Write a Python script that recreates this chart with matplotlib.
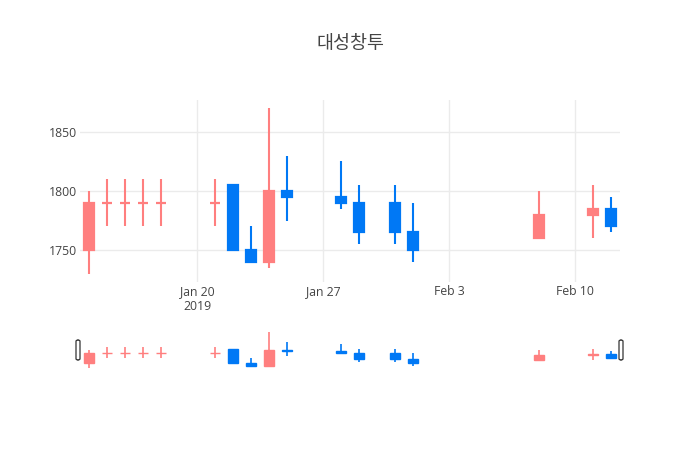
import matplotlib
matplotlib.use("Agg")
import matplotlib.pyplot as plt
import matplotlib.dates as mdates
from matplotlib.patches import Rectangle, FancyBboxPatch
import datetime as dt

title = "대성창투"
dates = ["2019-01-14", "2019-01-15", "2019-01-16", "2019-01-17", "2019-01-18",
         "2019-01-21", "2019-01-22", "2019-01-23", "2019-01-24", "2019-01-25",
         "2019-01-28", "2019-01-29", "2019-01-31", "2019-02-01",
         "2019-02-08", "2019-02-11", "2019-02-12"]
open_ = [1750, 1790, 1790, 1790, 1790, 1790, 1805, 1750, 1740, 1800,
         1795, 1790, 1790, 1765, 1760, 1780, 1785]
high = [1800, 1810, 1810, 1810, 1810, 1810, 1805, 1770, 1870, 1830,
        1825, 1805, 1805, 1790, 1800, 1805, 1795]
low = [1730, 1770, 1770, 1770, 1770, 1770, 1750, 1740, 1735, 1775,
       1785, 1755, 1755, 1740, 1760, 1760, 1765]
close = [1790, 1790, 1790, 1790, 1790, 1790, 1750, 1740, 1800, 1795,
         1790, 1765, 1765, 1750, 1780, 1785, 1770]
ytick_vals = [1750, 1800, 1850]
xtick_dates = ["2019-01-20", "2019-01-27", "2019-02-03", "2019-02-10"]
xtick_labels = ["Jan 20\n2019", "Jan 27", "Feb 3", "Feb 10"]

UP = "#FF7F7F"
DOWN = "#0078F5"
GRID = "#EBEBEB"
TXT = "#444444"

plt.rcParams['font.family'] = ['Open Sans', 'Noto Sans CJK KR', 'DejaVu Sans']

W, H = 700, 450
fig = plt.figure(figsize=(7, 4.5), dpi=100)

x = [mdates.date2num(dt.datetime.strptime(d, "%Y-%m-%d")) for d in dates]
xt = [mdates.date2num(dt.datetime.strptime(d, "%Y-%m-%d")) for d in xtick_dates]
colors = []
for i in range(len(x)):
    if close[i] > open_[i]:
        inc = True
    elif close[i] < open_[i]:
        inc = False
    else:
        inc = True if not colors else colors[-1] == UP
    colors.append(UP if inc else DOWN)

xmin = x[0] - 0.5
xmax = x[-1] + 0.5
ymin, ymax = 1723, 1877


def draw(ax, lw_wick, lw_body):
    bw = 0.6
    for xi, o, h, l, c, col in zip(x, open_, high, low, close, colors):
        ax.plot([xi, xi], [l, h], color=col, lw=lw_wick, solid_capstyle='butt', zorder=3)
        lo, hi = min(o, c), max(o, c)
        ax.add_patch(Rectangle((xi - bw / 2, lo), bw, hi - lo, facecolor=col,
                               edgecolor=col, lw=lw_body, zorder=4))


ax = fig.add_axes([80 / W, (H - 282) / H, 540 / W, 182 / H])
draw(ax, 1.5, 1.6)
ax.set_xlim(xmin, xmax)
ax.set_ylim(ymin, ymax)
ax.set_yticks(ytick_vals)
ax.set_yticklabels([str(v) for v in ytick_vals])
ax.set_xticks(xt)
ax.set_xticklabels(xtick_labels)
ax.grid(True, color=GRID, lw=1)
ax.set_axisbelow(True)
for s in ax.spines.values():
    s.set_visible(False)
ax.tick_params(axis='both', length=0, labelsize=8.8, colors=TXT)
ax.tick_params(axis='x', pad=2.5)
ax.tick_params(axis='y', pad=2)
for lab in ax.get_xticklabels():
    lab.set_linespacing(1.15)

# range slider
sl = fig.add_axes([80 / W, 80 / H, 540 / W, 40 / H])
draw(sl, 1.2, 1.0)
sl.set_xlim(xmin, xmax)
sl.set_ylim(ymin, ymax)
sl.set_xticks([])
sl.set_yticks([])
for s in sl.spines.values():
    s.set_visible(False)

for hx in (78, 621):
    fig.patches.append(FancyBboxPatch(((hx - 2) / W, (H - 360) / H), 4 / W, 20 / H,
                                      boxstyle="round,pad=0,rounding_size=0.003",
                                      transform=fig.transFigure, facecolor='white',
                                      edgecolor='#333333', lw=0.9, zorder=10))

fig.text(350 / W, 1 - 44 / H, title, ha='center', va='center', fontsize=13.3,
         color=TXT, family=['Noto Sans CJK KR', 'DejaVu Sans'])

fig.savefig("out.png", dpi=100, facecolor='white')
